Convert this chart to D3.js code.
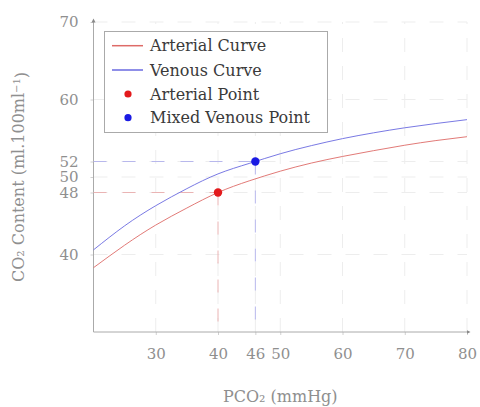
<!DOCTYPE html>
<html>
<head>
<meta charset="utf-8">
<script src="https://cdn.jsdelivr.net/npm/d3@7"></script>
<style>
  html, body { margin: 0; padding: 0; background: #fff; }
  svg { display: block; }
  text { font-family: "DejaVu Serif", "Liberation Serif", serif; }
</style>
</head>
<body>
<svg id="chart" width="480" height="407"></svg>
<script>
// ---- data ----
const pco2 = [20, 25, 30, 35, 40, 45, 50, 55, 60, 65, 70, 75, 80];
const arterialCurve = [38.3, 41.2, 43.8, 46.0, 48.0, 49.5, 50.75, 51.8, 52.65, 53.4, 54.1, 54.7, 55.2];
const venousCurve   = [40.6, 43.7, 46.3, 48.5, 50.4, 51.75, 53.0, 54.05, 54.95, 55.7, 56.35, 56.9, 57.4];
const arterialPoint = [40, 48];
const venousPoint = [46, 52];
const xTicks = [30, 40, 46, 50, 60, 70, 80];
const yTicks = [40, 48, 50, 52, 60, 70];
const legendLabels = ["Arterial Curve", "Venous Curve", "Arterial Point", "Mixed Venous Point"];
const xLabel = "PCO₂ (mmHg)";
const yLabelMain = "CO₂ Content (ml.100ml";
const yLabelSup = "−1";

// ---- layout ----
const svg = d3.select("#chart");
const x = d3.scaleLinear().domain([20, 80]).range([93.5, 467]);
const y = d3.scaleLinear().domain([30, 70]).range([332, 22]);

const red = "#e31a1c", blue = "#1a1ae3";
const redLine = "#de6b68", blueLine = "#6a6ae0";

// grid
const grid = svg.append("g").attr("stroke", "#ededed").attr("stroke-width", 1)
  .attr("stroke-dasharray", "14,14");
grid.selectAll("line.v").data(xTicks).join("line")
  .attr("x1", d => x(d)).attr("x2", d => x(d))
  .attr("y1", y(30)).attr("y2", y(70));
grid.selectAll("line.h").data(yTicks).join("line")
  .attr("x1", x(20)).attr("x2", x(80))
  .attr("y1", d => y(d)).attr("y2", d => y(d));

// defs arrow
const defs = svg.append("defs");
defs.append("marker").attr("id", "arrow").attr("viewBox", "0 0 10 10")
  .attr("refX", 5).attr("refY", 5).attr("markerWidth", 5).attr("markerHeight", 5)
  .attr("orient", "auto")
  .append("path").attr("d", "M0,1 L8,5 L0,9 z").attr("fill", "#888");

// axes
const xAxis = svg.append("g").attr("transform", `translate(0,${y(30)})`)
  .call(d3.axisBottom(x).tickValues(xTicks).tickSize(3).tickPadding(13).tickFormat(d3.format("d")));
const yAxis = svg.append("g").attr("transform", `translate(${x(20)},0)`)
  .call(d3.axisLeft(y).tickValues(yTicks).tickSize(3).tickPadding(12).tickFormat(d3.format("d")));
[xAxis, yAxis].forEach(a => {
  a.select(".domain").remove();
  a.selectAll(".tick line").attr("stroke", "#d0d0d0");
  a.selectAll(".tick text").attr("fill", "#8f8f8f").style("font-size", "15px")
    .style("font-family", '"DejaVu Serif", serif');
});
xAxis.selectAll(".tick text").attr("dy", "0.71em");
svg.append("line").attr("x1", x(20)).attr("x2", x(80) + 2).attr("y1", y(30)).attr("y2", y(30))
  .attr("stroke", "#aaa").attr("marker-end", "url(#arrow)");
svg.append("line").attr("x1", x(20)).attr("x2", x(20)).attr("y1", y(30)).attr("y2", y(70) - 2)
  .attr("stroke", "#aaa").attr("marker-end", "url(#arrow)");

// reference dashed lines
function refLines(pt, col) {
  const g = svg.append("g").attr("stroke", col).attr("stroke-width", 1).attr("stroke-dasharray", "13,16");
  g.append("line").attr("x1", x(20)).attr("x2", x(pt[0])).attr("y1", y(pt[1])).attr("y2", y(pt[1]));
  g.append("line").attr("x1", x(pt[0])).attr("x2", x(pt[0])).attr("y1", y(pt[1])).attr("y2", y(30));
}
refLines(arterialPoint, "#eab4b4");
refLines(venousPoint, "#b8b8ec");

// curves
const line = d3.line().x(d => x(d[0])).y(d => y(d[1])).curve(d3.curveNatural);
svg.append("path").datum(pco2.map((p, i) => [p, arterialCurve[i]]))
  .attr("d", line).attr("fill", "none").attr("stroke", redLine).attr("stroke-width", 0.9);
svg.append("path").datum(pco2.map((p, i) => [p, venousCurve[i]]))
  .attr("d", line).attr("fill", "none").attr("stroke", blueLine).attr("stroke-width", 0.9);

// points
svg.append("circle").attr("cx", x(arterialPoint[0])).attr("cy", y(arterialPoint[1])).attr("r", 4.2).attr("fill", red);
svg.append("circle").attr("cx", x(venousPoint[0])).attr("cy", y(venousPoint[1])).attr("r", 4.2).attr("fill", blue);

// legend
const lg = svg.append("g");
lg.append("rect").attr("x", 104.5).attr("y", 31.5).attr("width", 223).attr("height", 101)
  .attr("fill", "#fff").attr("stroke", "#aaa").attr("stroke-width", 1);
const rowY = [45.7, 70, 94, 117.7];
lg.append("line").attr("x1", 112).attr("x2", 143).attr("y1", rowY[0]).attr("y2", rowY[0])
  .attr("stroke", redLine).attr("stroke-width", 1.5);
lg.append("line").attr("x1", 112).attr("x2", 143).attr("y1", rowY[1]).attr("y2", rowY[1])
  .attr("stroke", blueLine).attr("stroke-width", 1.5);
lg.append("circle").attr("cx", 128).attr("cy", rowY[2]).attr("r", 3.6).attr("fill", red);
lg.append("circle").attr("cx", 128).attr("cy", rowY[3]).attr("r", 3.6).attr("fill", blue);
lg.selectAll("text").data(legendLabels).join("text")
  .attr("x", 150).attr("y", (d, i) => rowY[i]).attr("dy", "0.35em")
  .attr("fill", "#3a3a3a").style("font-size", "16px").text(d => d);

// axis labels
svg.append("text").attr("x", (x(20) + x(80)) / 2).attr("y", 402).attr("text-anchor", "middle")
  .attr("fill", "#8f8f8f").style("font-size", "16px").text(xLabel);
const yl = svg.append("text").attr("transform", `translate(24,${(y(30) + y(70)) / 2}) rotate(-90)`)
  .attr("text-anchor", "middle").attr("fill", "#8f8f8f").style("font-size", "16px");
yl.append("tspan").text(yLabelMain);
yl.append("tspan").attr("dy", "-0.45em").style("font-size", "10px").text(yLabelSup);
yl.append("tspan").attr("dy", "0.45em").text(")");
</script>
</body>
</html>
